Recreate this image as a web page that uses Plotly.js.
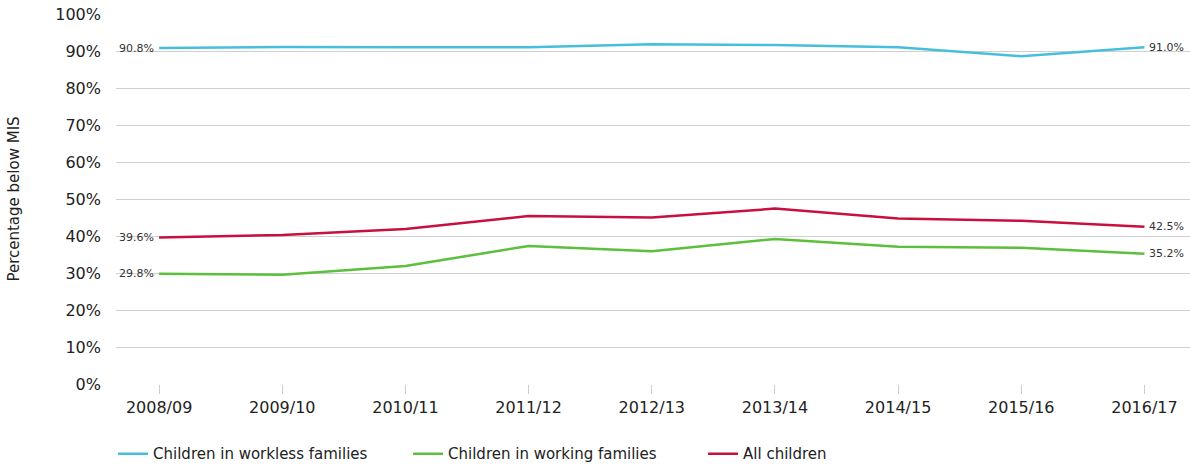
<!DOCTYPE html>
<html>
<head>
<meta charset="utf-8">
<script src="https://cdn.plot.ly/plotly-3.0.1.min.js"></script>
<style>
  html, body { margin: 0; padding: 0; background: #fff; }
  #chart { width: 1190px; height: 466px; }
</style>
</head>
<body>
<div id="chart"></div>
<script>
// years on the x axis
const years = ['2008/09', '2009/10', '2010/11', '2011/12', '2012/13', '2013/14', '2014/15', '2015/16', '2016/17'];

// percentage of children below the Minimum Income Standard
const workless = [90.8, 91.1, 91.0, 91.0, 91.8, 91.6, 91.0, 88.6, 91.0];
const working  = [29.8, 29.5, 31.9, 37.3, 35.9, 39.2, 37.1, 36.8, 35.2];
const allKids  = [39.6, 40.3, 41.9, 45.4, 45.0, 47.4, 44.7, 44.1, 42.5];

const yTicks = [0, 10, 20, 30, 40, 50, 60, 70, 80, 90, 100];

const FONT = '"DejaVu Sans", sans-serif';

function makeTrace(name, values, color) {
    return {
        x: years,
        y: values,
        name: name,
        type: 'scatter',
        mode: 'lines',
        line: { color: color, width: 2.5 },
        hoverinfo: 'skip'
    };
}

// end labels: first point on the left, last point on the right
function endLabels(values) {
    const last = values.length - 1;
    return [
        { x: years[0], y: values[0], text: values[0].toFixed(1) + '%', xanchor: 'right', xshift: -3 },
        { x: years[last], y: values[last], text: values[last].toFixed(1) + '%', xanchor: 'left', xshift: 3 }
    ];
}

const traces = [
    makeTrace('Children in workless families', workless, '#47bfdc'),
    makeTrace('Children in working families', working, '#5cbf3d'),
    makeTrace('All children', allKids, '#c8103f')
];

const annotations = [].concat(endLabels(workless), endLabels(working), endLabels(allKids)).map(a => Object.assign({
    xref: 'x', yref: 'y',
    showarrow: false,
    yanchor: 'middle',
    font: { family: FONT, size: 11, color: '#333' }
}, a));

const layout = {
    width: 1190,
    height: 466,
    margin: { l: 116, r: 0, t: 14, b: 82, autoexpand: false },
    paper_bgcolor: '#fff',
    plot_bgcolor: '#fff',
    font: { family: FONT, size: 16, color: '#222' },
    showlegend: true,
    legend: {
        orientation: 'h',
        xref: 'container', yref: 'container',
        x: 0.095, xanchor: 'left',
        y: 0.026, yanchor: 'middle',
        font: { family: FONT, size: 15, color: '#222' },
        entrywidth: 250,
        traceorder: 'normal'
    },
    xaxis: {
        type: 'category',
        range: [-0.35, 8.37],
        showgrid: false,
        zeroline: false,
        showline: false,
        ticks: 'outside',
        ticklen: 9,
        tickwidth: 1,
        tickcolor: '#ccc',
        tickfont: { family: FONT, size: 16, color: '#222' },
        fixedrange: true
    },
    yaxis: {
        range: [0, 100],
        tickvals: yTicks,
        ticktext: yTicks.map(v => v + '%'),
        showgrid: true,
        gridcolor: '#d0d0d0',
        gridwidth: 1,
        zeroline: false,
        showline: false,
        ticks: '',
        ticklabelstandoff: 14,
        tickfont: { family: FONT, size: 16, color: '#222' },
        title: { text: 'Percentage below MIS', font: { family: FONT, size: 15, color: '#222' }, standoff: 32 },
        fixedrange: true
    },
    annotations: annotations
};

Plotly.newPlot('chart', traces, layout, { displayModeBar: false, staticPlot: true });
</script>
</body>
</html>
